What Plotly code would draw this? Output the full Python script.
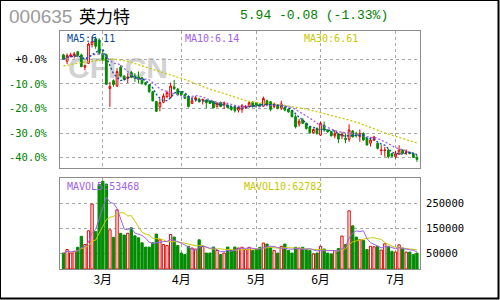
import plotly.graph_objects as go
import pandas as pd

# ---------------- data ----------------
stock_code = "000635"
stock_name = "英力特"
quote_text = "5.94 -0.08 (-1.33%)"
base_price = 10.02

month_labels = ["3月", "4月", "5月", "6月", "7月"]
month_start_idx = [11, 33, 54, 72, 93]

opens = [10.20, 9.94, 10.13, 10.17, 10.33, 10.20, 9.70, 9.86, 10.62, 10.85,
         10.80, 10.25, 10.20, 8.83, 9.15, 8.93, 9.70, 9.34, 9.24, 9.48,
         9.34, 9.30, 9.27, 9.07, 8.97, 8.70, 8.30, 8.08, 8.27, 8.50,
         8.47, 8.90, 8.80, 8.70, 8.58, 8.50, 8.22, 8.38, 8.40, 8.35,
         8.36, 8.32, 8.30, 8.10, 8.26, 8.17, 8.15, 8.08, 8.08, 7.95,
         7.98, 8.06, 8.09, 8.28, 8.24, 8.19, 8.11, 8.33, 8.29, 8.09,
         8.15, 8.03, 8.06, 7.98, 7.93, 7.68, 7.38, 7.55, 7.41, 7.27,
         7.03, 7.20, 6.93, 7.34, 7.14, 7.07, 6.90, 6.98, 6.90, 6.80,
         6.76, 7.10, 7.00, 6.87, 7.00, 6.80, 6.60, 6.72, 6.60, 6.30,
         6.30, 6.32, 6.18, 6.05, 6.16, 6.32, 6.22, 6.23, 6.17, 6.02]
highs = [10.24, 10.26, 10.29, 10.32, 10.36, 10.25, 9.80, 10.70, 10.95, 10.95,
         10.88, 10.40, 10.25, 9.10, 9.20, 9.66, 9.78, 9.36, 9.45, 9.55,
         9.45, 9.52, 9.30, 9.10, 9.00, 8.72, 8.32, 8.42, 8.63, 8.74,
         9.07, 9.18, 8.85, 8.72, 8.62, 8.55, 8.50, 8.52, 8.45, 8.42,
         8.39, 8.36, 8.32, 8.28, 8.30, 8.30, 8.18, 8.10, 8.15, 8.10,
         8.20, 8.15, 8.30, 8.32, 8.28, 8.22, 8.50, 8.38, 8.32, 8.25,
         8.18, 8.33, 8.10, 8.00, 7.95, 7.75, 7.60, 7.62, 7.45, 7.30,
         7.20, 7.25, 7.48, 7.48, 7.16, 7.10, 7.14, 7.00, 7.07, 7.00,
         7.37, 7.14, 7.07, 7.16, 7.05, 6.82, 6.84, 6.90, 6.62, 6.52,
         6.45, 6.38, 6.20, 6.29, 6.52, 6.35, 6.35, 6.25, 6.20, 6.12]
lows = [10.00, 9.83, 10.10, 10.06, 10.10, 9.70, 9.57, 9.83, 10.50, 10.45,
        10.20, 9.95, 8.98, 8.08, 8.90, 8.90, 9.30, 9.15, 9.05, 9.25,
        9.10, 9.05, 8.98, 8.95, 8.65, 8.30, 7.88, 7.90, 8.23, 8.43,
        8.43, 8.78, 8.55, 8.52, 8.40, 8.05, 8.20, 8.30, 8.25, 8.18,
        8.02, 8.20, 8.02, 8.05, 8.07, 8.00, 8.02, 7.92, 7.85, 7.85,
        7.84, 8.00, 8.05, 8.05, 8.05, 8.08, 8.08, 8.12, 7.90, 8.02,
        7.98, 7.95, 7.90, 7.84, 7.65, 7.20, 7.27, 7.38, 7.15, 6.98,
        7.00, 6.95, 6.90, 7.07, 7.03, 6.88, 6.80, 6.60, 6.77, 6.60,
        6.66, 6.83, 6.83, 6.66, 6.70, 6.50, 6.47, 6.70, 6.35, 6.12,
        6.05, 5.98, 6.03, 5.98, 6.12, 6.15, 6.12, 6.15, 6.00, 5.84]
closes = [10.02, 10.17, 10.20, 10.24, 10.18, 9.72, 9.76, 10.64, 10.75, 10.55,
          10.25, 10.00, 9.00, 8.92, 8.99, 9.52, 9.34, 9.20, 9.30, 9.29,
          9.25, 9.20, 9.04, 9.00, 8.70, 8.33, 7.90, 8.25, 8.53, 8.66,
          8.93, 8.82, 8.57, 8.57, 8.43, 8.10, 8.33, 8.45, 8.30, 8.38,
          8.25, 8.22, 8.04, 8.22, 8.10, 8.25, 8.05, 7.98, 7.92, 8.06,
          8.13, 8.10, 8.25, 8.09, 8.15, 8.11, 8.42, 8.15, 7.98, 8.19,
          8.02, 8.20, 7.95, 7.88, 7.68, 7.27, 7.50, 7.41, 7.20, 7.03,
          7.16, 7.00, 7.41, 7.14, 7.07, 6.90, 7.00, 6.77, 6.96, 6.75,
          7.14, 6.86, 6.90, 7.00, 6.73, 6.53, 6.73, 6.85, 6.39, 6.32,
          6.32, 6.05, 6.07, 6.16, 6.32, 6.19, 6.25, 6.18, 6.02, 5.94]
volumes = [51000, 65000, 51000, 58000, 74000, 118000, 85000, 140000, 247000, 137000,
           325000, 338000, 327000, 144000, 114000, 224000, 130000, 123000, 130000, 152000,
           120000, 112000, 92000, 75000, 75000, 92000, 127000, 104000, 85000, 81000,
           125000, 115000, 81000, 51000, 45000, 78000, 71000, 67000, 104000, 78000,
           51000, 51000, 75000, 61000, 45000, 51000, 75000, 61000, 75000, 71000,
           74000, 65000, 74000, 61000, 65000, 74000, 91000, 87000, 74000, 61000,
           51000, 78000, 87000, 61000, 51000, 74000, 71000, 74000, 65000, 61000,
           47000, 51000, 78000, 67000, 51000, 47000, 61000, 69000, 119000, 85000,
           220000, 160000, 115000, 104000, 101000, 65000, 78000, 76000, 78000, 63000,
           88000, 78000, 58000, 55000, 84000, 71000, 55000, 55000, 45000, 51000]
ma30 = [9.75, 9.77, 9.80, 9.83, 9.86, 9.89, 9.91, 9.93, 9.95, 9.97,
        9.99, 10.00, 10.01, 10.02, 10.02, 10.01, 10.00, 9.97, 9.94, 9.90,
        9.85, 9.81, 9.76, 9.71, 9.66, 9.61, 9.56, 9.52, 9.47, 9.42,
        9.38, 9.34, 9.29, 9.25, 9.19, 9.14, 9.08, 9.03, 8.97, 8.92,
        8.86, 8.81, 8.75, 8.70, 8.66, 8.62, 8.58, 8.54, 8.49, 8.44,
        8.39, 8.34, 8.30, 8.28, 8.26, 8.25, 8.24, 8.22, 8.20, 8.19,
        8.18, 8.16, 8.14, 8.12, 8.10, 8.07, 8.04, 8.02, 7.99, 7.95,
        7.92, 7.88, 7.84, 7.81, 7.77, 7.74, 7.70, 7.66, 7.62, 7.58,
        7.55, 7.51, 7.46, 7.41, 7.35, 7.29, 7.24, 7.18, 7.12, 7.07,
        7.02, 6.97, 6.92, 6.87, 6.82, 6.78, 6.75, 6.70, 6.66, 6.61]

ma_label_values = {"MA5": "6.11", "MA10": "6.14", "MA30": "6.61"}
mavol_label_values = {"MAVOL5": "53468", "MAVOL10": "62782"}

pct_ticks = [0, -10, -20, -30, -40]
vol_ticks = [50000, 150000, 250000]

# ---------------- styles ----------------
RED = "#e00000"
GREEN = "#008c00"
TXT_GREEN = "#008000"
BLUE = "#0a4a9c"
PURPLE = "#a060f0"
YELLOW = "#c8c800"
GRID = "#a8a8a8"
FRAME = "#8c8c8c"
MONO = "DejaVu Sans Mono"

W, H = 500, 300
L, R, T, B = 60, 80, 31, 31
PH = H - T - B  # plot area height in px


def px_x(px):
    return (px - L) / (W - L - R)


def px_y(py):
    return (H - B - py) / PH


idx = list(range(len(closes)))
x_range = [-0.98, 99.86]
price_range = [5.59, 11.173]
vol_range = [-12800, 351200]

s_close = pd.Series(closes)
ma5 = s_close.rolling(5, min_periods=1).mean()
ma10 = s_close.rolling(10, min_periods=1).mean()
s_vol = pd.Series(volumes)
mavol5 = s_vol.rolling(5, min_periods=1).mean()
mavol10 = s_vol.rolling(10, min_periods=1).mean()

up = [c >= o for o, c in zip(opens, closes)]
bar_fill = ["white" if u else GREEN for u in up]
bar_line = [RED if u else GREEN for u in up]

fig = go.Figure()

fig.add_trace(go.Candlestick(
    x=idx, open=opens, high=highs, low=lows, close=closes,
    increasing=dict(line=dict(color=RED, width=1), fillcolor="white"),
    decreasing=dict(line=dict(color=GREEN, width=1), fillcolor=GREEN),
    whiskerwidth=0, xaxis="x", yaxis="y", hoverinfo="skip", showlegend=False))

for series, color in [(ma30, YELLOW), (ma10, PURPLE), (ma5, BLUE)]:
    fig.add_trace(go.Scatter(x=idx, y=list(series), mode="lines",
                             line=dict(color=color, width=1.3, dash="2px,2px"),
                             xaxis="x", yaxis="y", hoverinfo="skip", showlegend=False))

fig.add_trace(go.Bar(x=idx, y=[v - vol_range[0] for v in volumes], base=vol_range[0],
                     marker=dict(color=bar_fill, line=dict(color=bar_line, width=1)),
                     xaxis="x2", yaxis="y2", hoverinfo="skip", showlegend=False))
for series, color in [(mavol10, YELLOW), (mavol5, PURPLE)]:
    fig.add_trace(go.Scatter(x=idx, y=list(series), mode="lines",
                             line=dict(color=color, width=1),
                             xaxis="x2", yaxis="y2", hoverinfo="skip", showlegend=False))

price_tickvals = [base_price * (1 + p / 100) for p in pct_ticks]
pct_text = []
price_text = []
for p, v in zip(pct_ticks, price_tickvals):
    col = "#000000" if p == 0 else TXT_GREEN
    pct_text.append(f'<span style="color:{col}">{p:+.1f}%</span>')
    price_text.append(f'<span style="color:{col}">{v:.2f}</span>')

price_dom = [px_y(168), 1.0]
vol_dom = [0.0, px_y(178)]

axis_common = dict(showline=True, mirror=True, linecolor=FRAME, linewidth=1,
                   zeroline=False, ticks="", automargin=False)

fig.update_layout(
    width=W, height=H, margin=dict(l=L, r=R, t=T, b=B, autoexpand=False),
    paper_bgcolor="white", plot_bgcolor="white", bargap=0.35,
    showlegend=False,
    xaxis=dict(domain=[0, 1], range=x_range, anchor="y", tickvals=month_start_idx,
               showticklabels=False, showgrid=True, gridcolor=GRID, griddash="dot",
               rangeslider=dict(visible=False), **axis_common),
    xaxis2=dict(domain=[0, 1], range=x_range, anchor="y2", matches="x",
                tickvals=month_start_idx, ticktext=month_labels,
                tickfont=dict(family="Noto Sans CJK SC", size=12, color="black"),
                showgrid=True, gridcolor=GRID, griddash="dot", **axis_common),
    yaxis=dict(domain=price_dom, range=price_range, anchor="x", side="left",
               tickvals=price_tickvals, ticktext=pct_text, ticklabelstandoff=10,
               tickfont=dict(family=MONO, size=10.5, color=TXT_GREEN),
               showgrid=True, gridcolor=GRID, griddash="dot", **axis_common),
    yaxis3=dict(domain=price_dom, range=price_range, overlaying="y", anchor="x",
                side="right", tickvals=price_tickvals, ticktext=price_text,
                ticklabelstandoff=2, automargin=False,
                tickfont=dict(family=MONO, size=10.5, color=TXT_GREEN),
                showgrid=False, showline=False, zeroline=False, ticks=""),
    yaxis2=dict(domain=vol_dom, range=vol_range, anchor="x2", side="right",
                tickvals=vol_ticks, ticktext=[str(v) for v in vol_ticks],
                ticklabelstandoff=3,
                tickfont=dict(family=MONO, size=10.5, color="black"),
                showgrid=True, gridcolor=GRID, griddash="dot", **axis_common),
)

annos = [
    dict(text=stock_code, x=px_x(7), y=px_y(16), font=dict(family="Liberation Sans", size=19, color="#9a9a9a")),
    dict(text=stock_name, x=px_x(77), y=px_y(15), font=dict(family="Noto Sans CJK SC", size=17, color="black")),
    dict(text=quote_text, x=px_x(238), y=px_y(15), font=dict(family="Liberation Mono", size=13, color=TXT_GREEN)),
    dict(text=f"MA5:{ma_label_values['MA5']}", x=px_x(65), y=px_y(38), font=dict(family=MONO, size=10, color=BLUE)),
    dict(text=f"MA10:{ma_label_values['MA10']}", x=px_x(183), y=px_y(38), font=dict(family=MONO, size=10, color=PURPLE)),
    dict(text=f"MA30:{ma_label_values['MA30']}", x=px_x(302), y=px_y(38), font=dict(family=MONO, size=10, color=YELLOW)),
    dict(text=f"MAVOL5:{mavol_label_values['MAVOL5']}", x=px_x(65), y=px_y(186), font=dict(family=MONO, size=10, color=PURPLE)),
    dict(text=f"MAVOL10:{mavol_label_values['MAVOL10']}", x=px_x(242), y=px_y(186), font=dict(family=MONO, size=10, color=YELLOW)),
]
for a in annos:
    fig.add_annotation(xref="paper", yref="paper", xanchor="left", yanchor="middle",
                       showarrow=False, **a)

# watermark (drawn beneath the candles) and outer frame
fig.add_shape(type="rect", xref="paper", yref="paper", layer="below",
              x0=px_x(66), x1=px_x(170), y0=px_y(76), y1=px_y(52),
              line=dict(width=0), fillcolor="rgba(0,0,0,0)",
              label=dict(text="<b>CFI.CN</b>", textposition="middle center",
                         font=dict(family="Liberation Sans", size=30, color="#d2d2d2")))
fig.add_shape(type="rect", xref="paper", yref="paper", layer="above",
              x0=px_x(0), x1=px_x(498.5), y0=px_y(298.5), y1=px_y(0),
              line=dict(color="black", width=2), fillcolor="rgba(0,0,0,0)")

fig.write_html("out.html")
